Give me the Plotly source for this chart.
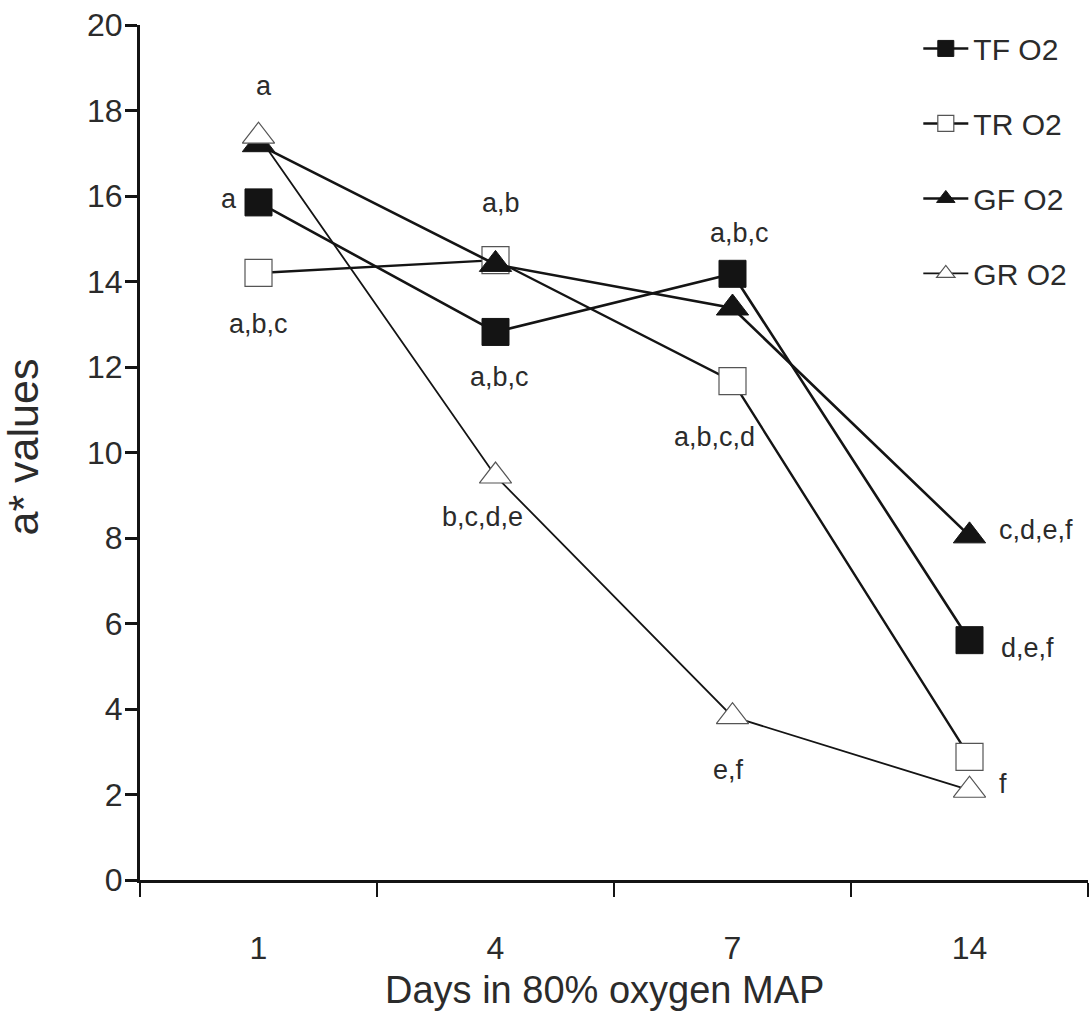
import plotly.graph_objects as go

# ---- data ----
days = ["1", "4", "7", "14"]
series_names = ["TF O2", "TR O2", "GF O2", "GR O2"]
tf_o2 = [15.85, 12.82, 14.18, 5.61]
tr_o2 = [14.2, 14.5, 11.67, 2.88]
gf_o2 = [17.2, 14.4, 13.38, 8.05]
gr_o2 = [17.4, 9.45, 3.82, 2.1]

# significance letters: text, series index, day index, pixel offsets
letters_text = ["a", "a", "a,b,c", "a,b", "a,b,c", "b,c,d,e",
                "a,b,c", "a,b,c,d", "e,f", "c,d,e,f", "d,e,f", "f"]
letters_series = [3, 0, 1, 1, 0, 3, 0, 1, 3, 2, 0, 3]
letters_day = [0, 0, 0, 1, 1, 1, 2, 2, 2, 3, 3, 3]
letters_dx = [5, -30, 0, 5, 4, -13, 7, -18, -4, 66, 58, 33]
letters_dy = [50, 3, -51, 57, -45, -41, 41, -56, -53, 6, -8, 6]

REG = "Liberation Sans, Arial, sans-serif"
TXT = "#2b2b2b"
LINE = "#141414"

values = [tf_o2, tr_o2, gf_o2, gr_o2]
styles = [
    dict(symbol="square", size=27, color=LINE, line=dict(color=LINE, width=1)),
    dict(symbol="square", size=27, color="white", line=dict(color="#555555", width=1.2)),
    dict(symbol="triangle-up", size=28, color=LINE, line=dict(color=LINE, width=1)),
    dict(symbol="triangle-up", size=28, color="white", line=dict(color="#555555", width=1.2)),
]
line_widths = [2.6, 2.4, 2.6, 1.8]

fig = go.Figure()
for i, name in enumerate(series_names):
    fig.add_trace(go.Scatter(
        x=days, y=values[i], name=name, mode="lines+markers",
        legendgroup=name,
        line=dict(color=LINE, width=line_widths[i]),
        marker=styles[i],
    ))

annotations = []
for t, s, d, dx, dy in zip(letters_text, letters_series, letters_day, letters_dx, letters_dy):
    annotations.append(dict(
        x=d, y=values[s][d], xref="x", yref="y", text=t, showarrow=False,
        xshift=dx, yshift=dy, font=dict(family=REG, size=27, color=TXT),
    ))

annotations.append(dict(
    text="a* values", xref="paper", yref="paper", x=0, y=0.5, xshift=-118, yshift=5,
    textangle=-90, showarrow=False, xanchor="center", yanchor="middle",
    font=dict(family=REG, size=43, color=TXT),
))
annotations.append(dict(
    text="Days in 80% oxygen MAP", xref="paper", yref="paper", x=0.49, y=0,
    yshift=-110, showarrow=False, xanchor="center", yanchor="middle",
    font=dict(family=REG, size=38, color=TXT),
))

fig.update_layout(
    width=1092, height=1021,
    margin=dict(l=140, r=4, t=25, b=141),
    paper_bgcolor="white", plot_bgcolor="white",
    showlegend=True,
    legend=dict(
        x=0.821, y=1.003, xanchor="left", yanchor="top",
        font=dict(family=REG, size=30, color=TXT),
        bgcolor="rgba(0,0,0,0)", tracegroupgap=33, itemwidth=45,
    ),
    annotations=annotations,
    xaxis=dict(
        type="category", range=[-0.5, 3.5], tickson="boundaries",
        showline=True, linecolor=LINE, linewidth=3,
        ticks="outside", ticklen=14, tickwidth=2, tickcolor=LINE,
        showgrid=False, zeroline=False,
        tickfont=dict(family=REG, size=32, color=TXT),
        ticklabelstandoff=38,
    ),
    yaxis=dict(
        range=[0, 20], tickvals=list(range(0, 21, 2)),
        showline=True, linecolor=LINE, linewidth=3,
        ticks="outside", ticklen=12, tickwidth=3, tickcolor=LINE,
        showgrid=False, zeroline=False,
        tickfont=dict(family=REG, size=32, color=TXT),
        ticklabelstandoff=-4,
    ),
)

fig.write_html("out.html")
